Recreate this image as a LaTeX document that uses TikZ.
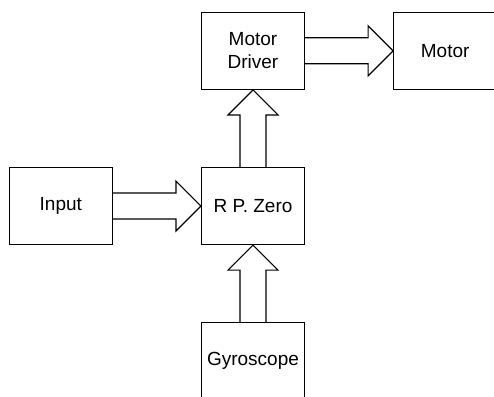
\documentclass[tikz,border=0pt]{standalone}
\usepackage{fontspec}
\setmainfont{Liberation Sans}
\usetikzlibrary{calc}
\tikzset{gbox/.style={
    rectangle,
    draw,
    line width=1.2pt,
    align=center,
    minimum height=77pt,
    minimum width=103pt,
    font=\fontsize{19}{23}\selectfont
  },
  fatarrow/.style={draw,line width=1.2pt,line join=miter},
}
\newcommand{\harrow}[2]{%
  \draw[fatarrow] let \p1=(#1.east), \p2=(#2.west) in
    (\x1,\y2+13pt) -- (\x2-25pt,\y2+13pt) -- (\x2-25pt,\y2+25pt) -- (\x2,\y2)
    -- (\x2-25pt,\y2-25pt) -- (\x2-25pt,\y2-13pt) -- (\x1,\y2-13pt);
}
\newcommand{\varrow}[2]{%
  \draw[fatarrow] let \p1=(#1.north), \p2=(#2.south) in
    (\x2-13pt,\y1) -- (\x2-13pt,\y2-25pt) -- (\x2-25pt,\y2-25pt) -- (\x2,\y2)
    -- (\x2+25pt,\y2-25pt) -- (\x2+13pt,\y2-25pt) -- (\x2+13pt,\y1);
}
\begin{document}
\begin{tikzpicture}
  \useasboundingbox (0,0) rectangle (494pt,-396pt);
  \matrix[column sep=88pt,row sep=77pt,ampersand replacement=\&] at (253pt,-206pt) {
    \& \node [gbox] (driver) {Motor\\Driver}; \& \node [gbox] (motor) {Motor}; \\
    \node [gbox] (input) {Input}; \& \node [gbox] (rpzero) {R P. Zero}; \& \\
    \& \node [gbox] (gyro) {Gyroscope}; \& \\
  };
  \harrow{driver}{motor}
  \harrow{input}{rpzero}
  \varrow{rpzero}{driver}
  \varrow{gyro}{rpzero}
\end{tikzpicture}
\end{document}
